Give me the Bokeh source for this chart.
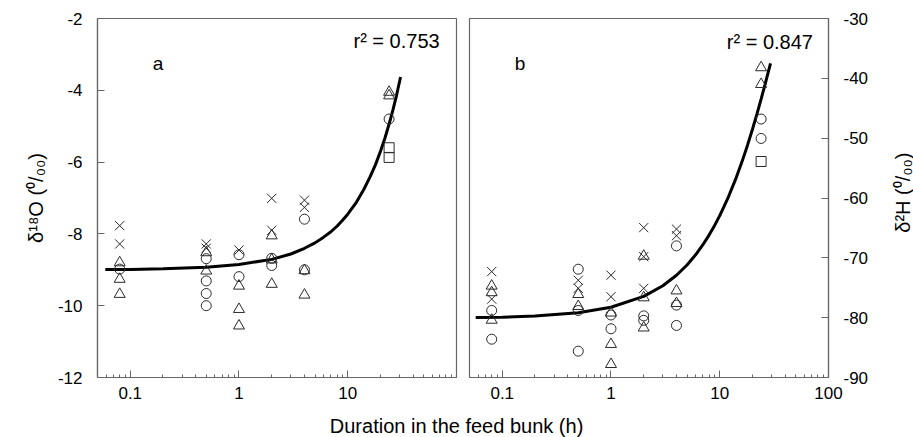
import math
from bokeh.plotting import figure
from bokeh.models import FixedTicker, Label, CustomJSTickFormatter
from bokeh.layouts import row, column
from bokeh.embed import file_html
from bokeh.resources import INLINE

# ---------------- data ----------------
# duration in the feed bunk (h)
minor_x = [0.06, 0.07, 0.08, 0.09, 0.2, 0.3, 0.4, 0.5, 0.6, 0.7, 0.8, 0.9,
           2, 3, 4, 5, 6, 7, 8, 9, 20, 30, 40, 50, 60, 70, 80, 90]

# panel a: delta 18O (per mil)
o18_circle_x = [0.08, 0.5, 0.5, 0.5, 0.5, 1, 1, 2, 2, 4, 4, 24]
o18_circle_y = [-8.98, -8.69, -9.31, -9.66, -10.0, -8.58, -9.19, -8.68, -8.88, -7.59, -9.0, -4.8]
o18_tri_x = [0.08, 0.08, 0.08, 0.5, 0.5, 1, 1, 1, 2, 2, 2, 4, 4, 24, 24]
o18_tri_y = [-8.8, -9.26, -9.68, -8.52, -9.03, -9.45, -10.1, -10.56, -8.05, -8.72, -9.4, -9.02, -9.7, -4.05, -4.15]
o18_x_x = [0.08, 0.08, 0.5, 0.5, 1, 2, 2, 4, 4]
o18_x_y = [-7.77, -8.28, -8.28, -8.4, -8.45, -7.01, -7.9, -7.06, -7.26]
o18_sq_x = [24, 24]
o18_sq_y = [-5.6, -5.87]
o18_fit_x = [0.059, 0.1, 0.2, 0.5, 1, 2, 3, 4, 5, 6, 7, 8, 9, 10, 12, 14, 16, 18, 20, 22, 24, 26, 28, 30.6]
o18_fit_y = [-8.99, -8.99, -8.97, -8.93, -8.85, -8.71, -8.56, -8.40, -8.25, -8.09, -7.94, -7.78,
             -7.61, -7.45, -7.12, -6.77, -6.42, -6.07, -5.70, -5.33, -4.94, -4.55, -4.16, -3.63]
o18_r2 = "r² = 0.753"
o18_ticks = [-12, -10, -8, -6, -4, -2]

# panel b: delta 2H (per mil)
h2_circle_x = [0.08, 0.08, 0.5, 0.5, 0.5, 1, 1, 2, 2, 4, 4, 4, 24, 24]
h2_circle_y = [-78.8, -83.6, -71.9, -78.8, -85.6, -79.55, -81.85, -79.7, -80.45, -68.0, -77.9, -81.3, -46.8, -50.05]
h2_tri_x = [0.08, 0.08, 0.08, 0.5, 0.5, 1, 1, 1, 2, 2, 2, 4, 4, 24, 24]
h2_tri_y = [-74.7, -75.8, -80.4, -76.1, -78.1, -79.2, -84.45, -87.8, -69.7, -76.65, -81.7, -75.5, -77.6, -38.2, -41.0]
h2_x_x = [0.08, 0.08, 0.5, 0.5, 1, 1, 2, 2, 2, 4, 4]
h2_x_y = [-72.3, -76.9, -73.75, -75.1, -72.9, -76.5, -64.95, -69.8, -75.1, -65.2, -66.3]
h2_sq_x = [24]
h2_sq_y = [-53.9]
h2_fit_x = [0.057, 0.1, 0.2, 0.5, 1, 2, 3, 4, 5, 6, 7, 8, 9, 10, 12, 14, 16, 18, 20, 22, 24, 26, 28, 29.3]
h2_fit_y = [-79.99, -79.92, -79.73, -79.18, -78.26, -76.45, -74.67, -72.92, -71.19, -69.49, -67.81, -66.16,
            -64.54, -62.95, -59.84, -56.85, -53.96, -51.17, -48.5, -45.93, -43.48, -41.13, -38.88, -37.5]
h2_r2 = "r² = 0.847"
h2_ticks = [-90, -80, -70, -60, -50, -40, -30]

x_major_a = [0.1, 1, 10]
x_major_b = [0.1, 1, 10, 100]

FONT = "Liberation Sans"
AX = "#666666"
MK = "#2a2a2a"


def base(width, min_left, min_right, y_range, y_loc):
    p = figure(width=width, height=408, x_axis_type="log", x_range=(0.05, 100), y_range=y_range,
               y_axis_location=y_loc, output_backend="svg", toolbar_location=None,
               min_border_left=min_left, min_border_right=min_right,
               min_border_top=18, min_border_bottom=31)
    p.grid.visible = False
    p.outline_line_color = AX
    p.outline_line_width = 1.2
    return p


def style_axis(ax):
    ax.axis_line_color = AX
    ax.axis_line_width = 1.2
    ax.major_tick_line_color = AX
    ax.minor_tick_line_color = AX
    ax.major_tick_in = 7
    ax.major_tick_out = 0
    ax.minor_tick_in = 3
    ax.minor_tick_out = 0
    ax.major_label_text_font = FONT
    ax.major_label_text_font_size = "17px"
    ax.major_label_text_color = "black"
    ax.axis_label_text_font = FONT
    ax.axis_label_text_font_size = "20px"
    ax.axis_label_text_font_style = "normal"
    ax.axis_label_text_color = "black"
    ax.formatter = CustomJSTickFormatter(code="return String(tick)")


def text_label(p, x, y, text, size, align="center", angle=0.0):
    p.add_layout(Label(x=x, y=y, text=text, text_font=FONT, text_font_size=size,
                       text_color="black", text_align=align, text_baseline="middle",
                       angle=angle))


def draw_points(p, cx, cy, tx, ty, xx, xy, sx, sy, fx, fy):
    p.line(fx, fy, line_width=3, color="black")
    p.scatter(cx, cy, marker="circle", size=10, fill_color=None, line_color=MK, line_width=1)
    p.scatter(tx, ty, marker="triangle", size=11, fill_color=None, line_color=MK, line_width=1)
    p.scatter(xx, xy, marker="x", size=13, fill_color=None, line_color=MK, line_width=1)
    p.scatter(sx, sy, marker="square", size=10, fill_color=None, line_color=MK, line_width=1)


# ---------------- panel a ----------------
p1 = base(462, 97, 6, (-12, -2), "left")
style_axis(p1.xaxis[0])
style_axis(p1.yaxis[0])
p1.xaxis.ticker = FixedTicker(ticks=x_major_a, minor_ticks=minor_x)
p1.xaxis.major_label_standoff = 9
p1.yaxis.ticker = FixedTicker(ticks=o18_ticks, minor_ticks=[])
p1.yaxis.major_label_standoff = 15
p1.yaxis.axis_label = "δ¹⁸O (⁰/₀₀)"
p1.yaxis.axis_label_standoff = 8
draw_points(p1, o18_circle_x, o18_circle_y, o18_tri_x, o18_tri_y, o18_x_x, o18_x_y,
            o18_sq_x, o18_sq_y, o18_fit_x, o18_fit_y)
text_label(p1, 0.18, -3.26, "a", "19px")
text_label(p1, 70, -2.64, o18_r2, "20px", align="right")

# ---------------- panel b ----------------
p2 = base(423, 7, 57, (-90, -30), "right")
style_axis(p2.xaxis[0])
style_axis(p2.yaxis[0])
p2.xaxis.ticker = FixedTicker(ticks=x_major_b, minor_ticks=minor_x)
p2.xaxis.major_label_standoff = 9
p2.yaxis.ticker = FixedTicker(ticks=h2_ticks, minor_ticks=[])
p2.yaxis.major_label_standoff = 15
draw_points(p2, h2_circle_x, h2_circle_y, h2_tri_x, h2_tri_y, h2_x_x, h2_x_y,
            h2_sq_x, h2_sq_y, h2_fit_x, h2_fit_y)
text_label(p2, 0.146, -37.6, "b", "19px")
text_label(p2, 72, -33.9, h2_r2, "20px", align="right")

# ---------------- right-hand axis title (reads bottom-to-top) ----------------
p4 = figure(width=28, height=408, x_range=(0, 1), y_range=(0, 1), output_backend="svg",
            toolbar_location=None, min_border=0)
p4.axis.visible = False
p4.grid.visible = False
p4.outline_line_color = None
text_label(p4, 0.62, 0.515, "δ²H (⁰/₀₀)", "20px", angle=math.pi / 2)

# ---------------- shared x-axis title ----------------
p3 = figure(width=913, height=29, x_range=(0, 1), y_range=(0, 1), output_backend="svg",
            toolbar_location=None, min_border=0)
p3.axis.visible = False
p3.grid.visible = False
p3.outline_line_color = None
text_label(p3, 0.4995, 0.38, "Duration in the feed bunk (h)", "20px")

layout = column(row(p1, p2, p4, spacing=0), p3, spacing=0)

with open("out.html", "w") as f:
    f.write(file_html(layout, INLINE))
